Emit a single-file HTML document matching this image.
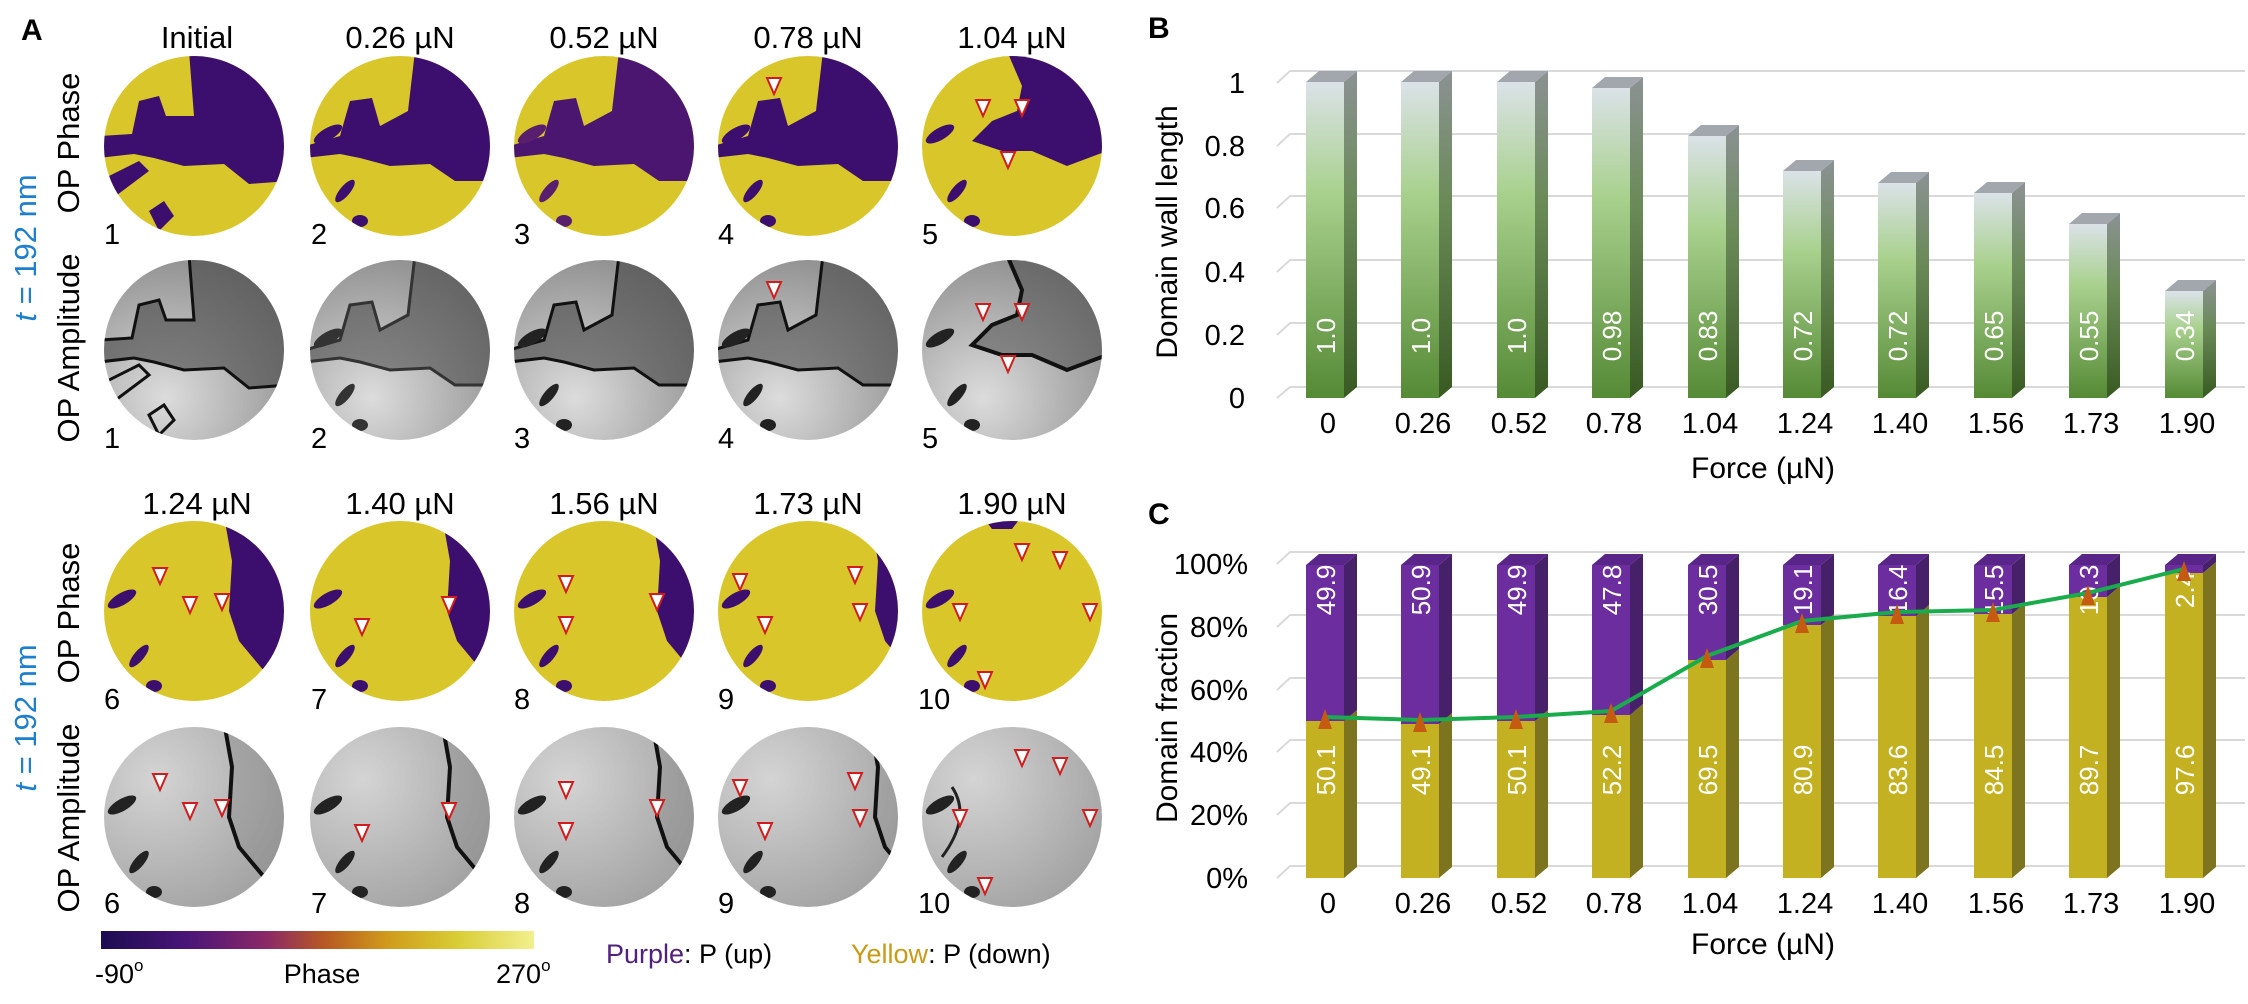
<!DOCTYPE html>
<html><head><meta charset="utf-8"><style>
html,body{margin:0;padding:0;background:#fff;}
svg{display:block;}
.a{font-family:"Liberation Sans",sans-serif;}
.d{font-family:"Liberation Sans",sans-serif;}
</style></head><body>
<svg width="2248" height="1004" viewBox="0 0 2248 1004" xmlns="http://www.w3.org/2000/svg">
<defs>
<clipPath id="cc"><circle cx="0" cy="0" r="90"/></clipPath>
<linearGradient id="cb" x1="0" x2="1" y1="0" y2="0">
<stop offset="0" stop-color="#1c0c50"/><stop offset="0.2" stop-color="#4a1578"/><stop offset="0.38" stop-color="#8a2868"/><stop offset="0.52" stop-color="#b85a22"/><stop offset="0.66" stop-color="#d09a1c"/><stop offset="0.82" stop-color="#d8cc34"/><stop offset="1" stop-color="#f2f08e"/></linearGradient>
<radialGradient id="gr" cx="0.35" cy="0.75" r="0.8"><stop offset="0" stop-color="#dcdcdc"/><stop offset="1" stop-color="#8c8c8c"/></radialGradient>
<radialGradient id="gr2" cx="0.3" cy="0.3" r="0.9"><stop offset="0" stop-color="#d4d4d4"/><stop offset="1" stop-color="#9a9a9a"/></radialGradient>
<linearGradient id="gf" x1="0" x2="0" y1="0" y2="1"><stop offset="0" stop-color="#dbe2e8"/><stop offset="0.35" stop-color="#a9d18e"/><stop offset="1" stop-color="#558a35"/></linearGradient>
<linearGradient id="gs" x1="0" x2="0" y1="0" y2="1"><stop offset="0" stop-color="#8c9294"/><stop offset="0.4" stop-color="#6a8a58"/><stop offset="1" stop-color="#385a22"/></linearGradient>
<path id="sA" d="M-95,0 L-60,-10 L-50,-45 L-28,-48 L-20,-20 L8,-35 L15,-95 L95,-95 L95,35 L55,35 L30,18 L-10,20 L-40,12 L-60,8 L-95,12 Z"/>
<path id="sA1" d="M-95,-10 L-62,-12 L-55,-45 L-35,-50 L-28,-30 L0,-30 L-5,-95 L95,-95 L95,35 L55,38 L30,18 L-10,20 L-40,12 L-60,8 L-95,12 Z"/>
<path id="sB" d="M-5,-95 L95,-95 L95,5 L55,20 L20,5 L-10,5 L-40,-5 L-20,-25 L5,-35 L10,-60 Z"/>
<path id="sC" d="M30,-95 L95,-95 L95,95 L70,60 L45,30 L35,0 L38,-50 Z"/>
<g id="st"><ellipse cx="-72" cy="-12" rx="16" ry="6" transform="rotate(-30 -72 -12)"/><ellipse cx="-55" cy="45" rx="14" ry="5" transform="rotate(-50 -55 45)"/><ellipse cx="-40" cy="75" rx="8" ry="6"/></g>
<g id="st2"><path d="M-95,35 L-55,15 L-45,25 L-85,55 Z"/><path d="M-45,65 L-30,55 L-20,70 L-35,85 Z"/></g>
<path id="tri" d="M-7,-8 L7,-8 L0,8 Z" fill="#fff" stroke="#d01c1c" stroke-width="2"/>
</defs>

<text x="21" y="40" class="a" font-size="30" font-weight="bold">A</text>
<g class="a" font-size="31" text-anchor="middle">
<text x="197" y="48">Initial</text><text x="400" y="48">0.26 µN</text><text x="604" y="48">0.52 µN</text><text x="808" y="48">0.78 µN</text><text x="1012" y="48">1.04 µN</text>
<text x="197" y="514">1.24 µN</text><text x="400" y="514">1.40 µN</text><text x="604" y="514">1.56 µN</text><text x="808" y="514">1.73 µN</text><text x="1012" y="514">1.90 µN</text>
</g>
<g class="a" font-size="31">
<text transform="translate(79,143) rotate(-90)" text-anchor="middle">OP Phase</text>
<text transform="translate(79,348) rotate(-90)" text-anchor="middle">OP Amplitude</text>
<text transform="translate(36,248) rotate(-90)" text-anchor="middle" fill="#1f7fcf"><tspan font-style="italic">t</tspan> = 192 nm</text>
<text transform="translate(79,613) rotate(-90)" text-anchor="middle">OP Phase</text>
<text transform="translate(79,818) rotate(-90)" text-anchor="middle">OP Amplitude</text>
<text transform="translate(36,718) rotate(-90)" text-anchor="middle" fill="#1f7fcf"><tspan font-style="italic">t</tspan> = 192 nm</text>
</g>

<g transform="translate(194,146)" clip-path="url(#cc)"><rect x="-95" y="-95" width="190" height="190" fill="#d9c62a"/><use href="#sA1" fill="#3c0f6e"/><use href="#st2" fill="#3c0f6e"/></g>
<g transform="translate(400,146)" clip-path="url(#cc)"><rect x="-95" y="-95" width="190" height="190" fill="#d9c62a"/><use href="#sA" fill="#3c0f6e"/><use href="#st" fill="#3c0f6e"/></g>
<g transform="translate(604,146)" clip-path="url(#cc)"><rect x="-95" y="-95" width="190" height="190" fill="#d9c62a"/><use href="#sA" fill="#4a1670"/><use href="#st" fill="#5a1e6e"/></g>
<g transform="translate(808,146)" clip-path="url(#cc)"><rect x="-95" y="-95" width="190" height="190" fill="#d9c62a"/><use href="#sA" fill="#3c0f6e"/><use href="#st" fill="#3c0f6e"/></g>
<g transform="translate(1012,146)" clip-path="url(#cc)"><rect x="-95" y="-95" width="190" height="190" fill="#d9c62a"/><use href="#sB" fill="#3c0f6e"/><use href="#st" fill="#3c0f6e"/></g>
<g transform="translate(194,350)" clip-path="url(#cc)"><rect x="-95" y="-95" width="190" height="190" fill="url(#gr)"/><use href="#sA1" fill="#444" fill-opacity="0.6" stroke="#111" stroke-width="3"/><use href="#st2" fill="none" stroke="#111" stroke-width="3"/></g>
<g transform="translate(400,350)" clip-path="url(#cc)"><rect x="-95" y="-95" width="190" height="190" fill="url(#gr)"/><use href="#sA" fill="#444" fill-opacity="0.55" stroke="#333" stroke-width="3"/><use href="#st" fill="#333"/></g>
<g transform="translate(604,350)" clip-path="url(#cc)"><rect x="-95" y="-95" width="190" height="190" fill="url(#gr)"/><use href="#sA" fill="#444" fill-opacity="0.6" stroke="#111" stroke-width="3"/><use href="#st" fill="#222"/></g>
<g transform="translate(808,350)" clip-path="url(#cc)"><rect x="-95" y="-95" width="190" height="190" fill="url(#gr)"/><use href="#sA" fill="#444" fill-opacity="0.55" stroke="#111" stroke-width="3"/><use href="#st" fill="#222"/></g>
<g transform="translate(1012,350)" clip-path="url(#cc)"><rect x="-95" y="-95" width="190" height="190" fill="url(#gr)"/><use href="#sB" fill="#444" fill-opacity="0.5" stroke="#111" stroke-width="4"/><use href="#st" fill="#222"/></g>
<g transform="translate(194,611)" clip-path="url(#cc)"><rect x="-95" y="-95" width="190" height="190" fill="#d9c62a"/><use href="#sC" fill="#3c0f6e"/><use href="#st" fill="#3c0f6e"/></g>
<g transform="translate(400,611)" clip-path="url(#cc)"><rect x="-95" y="-95" width="190" height="190" fill="#d9c62a"/><use href="#sC" fill="#3c0f6e" transform="translate(12,0)"/><use href="#st" fill="#3c0f6e"/></g>
<g transform="translate(604,611)" clip-path="url(#cc)"><rect x="-95" y="-95" width="190" height="190" fill="#d9c62a"/><use href="#sC" fill="#3c0f6e" transform="translate(18,0)"/><use href="#st" fill="#3c0f6e"/></g>
<g transform="translate(808,611)" clip-path="url(#cc)"><rect x="-95" y="-95" width="190" height="190" fill="#d9c62a"/><use href="#sC" fill="#3c0f6e" transform="translate(32,0)"/><use href="#st" fill="#3c0f6e"/></g>
<g transform="translate(1012,611)" clip-path="url(#cc)"><rect x="-95" y="-95" width="190" height="190" fill="#d9c62a"/><path d="M-30,-95 L10,-95 L0,-82 L-20,-82 Z" fill="#3c0f6e"/><use href="#st" fill="#3c0f6e"/></g>
<g transform="translate(194,817)" clip-path="url(#cc)"><rect x="-95" y="-95" width="190" height="190" fill="url(#gr2)"/><use href="#sC" fill="#777" fill-opacity="0.3" stroke="#111" stroke-width="4"/><use href="#st" fill="#222"/></g>
<g transform="translate(400,817)" clip-path="url(#cc)"><rect x="-95" y="-95" width="190" height="190" fill="url(#gr2)"/><use href="#sC" fill="#777" fill-opacity="0.3" stroke="#111" stroke-width="4" transform="translate(12,0)"/><use href="#st" fill="#222"/></g>
<g transform="translate(604,817)" clip-path="url(#cc)"><rect x="-95" y="-95" width="190" height="190" fill="url(#gr2)"/><use href="#sC" fill="#777" fill-opacity="0.3" stroke="#111" stroke-width="4" transform="translate(18,0)"/><use href="#st" fill="#222"/></g>
<g transform="translate(808,817)" clip-path="url(#cc)"><rect x="-95" y="-95" width="190" height="190" fill="url(#gr2)"/><use href="#sC" fill="#777" fill-opacity="0.2" stroke="#111" stroke-width="4" transform="translate(32,0)"/><use href="#st" fill="#222"/></g>
<g transform="translate(1012,817)" clip-path="url(#cc)"><rect x="-95" y="-95" width="190" height="190" fill="url(#gr2)"/><use href="#st" fill="#222"/><path d="M-60,-30 Q-40,0 -70,40" fill="none" stroke="#222" stroke-width="3"/></g>

<g>
<use href="#tri" x="774" y="86"/><use href="#tri" x="774" y="290"/>
<use href="#tri" x="983" y="108"/><use href="#tri" x="1022" y="108"/><use href="#tri" x="1008" y="160"/>
<use href="#tri" x="983" y="312"/><use href="#tri" x="1022" y="312"/><use href="#tri" x="1008" y="364"/>
<use href="#tri" x="160" y="576"/><use href="#tri" x="190" y="605"/><use href="#tri" x="222" y="602"/>
<use href="#tri" x="160" y="782"/><use href="#tri" x="190" y="811"/><use href="#tri" x="222" y="808"/>
<use href="#tri" x="362" y="627"/><use href="#tri" x="449" y="605"/><use href="#tri" x="362" y="833"/><use href="#tri" x="449" y="811"/>
<use href="#tri" x="566" y="584"/><use href="#tri" x="566" y="625"/><use href="#tri" x="657" y="602"/>
<use href="#tri" x="566" y="790"/><use href="#tri" x="566" y="831"/><use href="#tri" x="657" y="808"/>
<use href="#tri" x="740" y="582"/><use href="#tri" x="765" y="625"/><use href="#tri" x="855" y="575"/><use href="#tri" x="860" y="612"/>
<use href="#tri" x="740" y="788"/><use href="#tri" x="765" y="831"/><use href="#tri" x="855" y="781"/><use href="#tri" x="860" y="818"/>
<use href="#tri" x="1022" y="552"/><use href="#tri" x="1060" y="560"/><use href="#tri" x="1090" y="612"/><use href="#tri" x="960" y="612"/><use href="#tri" x="985" y="680"/>
<use href="#tri" x="1022" y="758"/><use href="#tri" x="1060" y="766"/><use href="#tri" x="1090" y="818"/><use href="#tri" x="960" y="818"/><use href="#tri" x="985" y="886"/>
</g>

<g class="a" font-size="29">
<text x="104" y="244">1</text><text x="311" y="244">2</text><text x="514" y="244">3</text><text x="718" y="244">4</text><text x="922" y="244">5</text>
<text x="104" y="448">1</text><text x="311" y="448">2</text><text x="514" y="448">3</text><text x="718" y="448">4</text><text x="922" y="448">5</text>
<text x="104" y="709">6</text><text x="311" y="709">7</text><text x="514" y="709">8</text><text x="718" y="709">9</text><text x="918" y="709">10</text>
<text x="104" y="913">6</text><text x="311" y="913">7</text><text x="514" y="913">8</text><text x="718" y="913">9</text><text x="918" y="913">10</text>
</g>

<rect x="101" y="931" width="433" height="18" fill="url(#cb)"/>
<g class="a" font-size="27">
<text x="95" y="983">-90<tspan font-size="17" dy="-12">o</tspan></text>
<text x="322" y="983" text-anchor="middle">Phase</text>
<text x="496" y="983">270<tspan font-size="17" dy="-12">o</tspan></text>
<text x="606" y="963"><tspan fill="#50217f">Purple</tspan>: P (up)</text>
<text x="851" y="963"><tspan fill="#c89a16">Yellow</tspan>: P (down)</text>
</g>

<text x="1148" y="38" class="a" font-size="30" font-weight="bold">B</text>
<g stroke="#d9d9d9" stroke-width="2" fill="none">
<path d="M1277,83 L1290,71 L2245,71"/><path d="M1277,146 L1290,134 L2245,134"/><path d="M1277,208 L1290,196 L2245,196"/><path d="M1277,272 L1290,260 L2245,260"/><path d="M1277,335 L1290,323 L2245,323"/><path d="M1277,398 L1290,387 L2245,387"/>
</g>
<g class="d" font-size="29" text-anchor="end">
<text x="1245" y="93">1</text><text x="1245" y="156">0.8</text><text x="1245" y="218">0.6</text><text x="1245" y="282">0.4</text><text x="1245" y="345">0.2</text><text x="1245" y="408">0</text>
</g>
<text transform="translate(1177,232) rotate(-90)" class="a" font-size="30" text-anchor="middle">Domain wall length</text>

<g>
<g transform="translate(1306,0)"><path d="M38,82 L51,71 L51,387 L38,398 Z" fill="url(#gs)"/><path d="M0,82 L13,71 L51,71 L38,82 Z" fill="#a2a6ad"/><rect x="0" y="82" width="38" height="316" fill="url(#gf)"/></g>
<g transform="translate(1401,0)"><path d="M38,82 L51,71 L51,387 L38,398 Z" fill="url(#gs)"/><path d="M0,82 L13,71 L51,71 L38,82 Z" fill="#a2a6ad"/><rect x="0" y="82" width="38" height="316" fill="url(#gf)"/></g>
<g transform="translate(1497,0)"><path d="M38,82 L51,71 L51,387 L38,398 Z" fill="url(#gs)"/><path d="M0,82 L13,71 L51,71 L38,82 Z" fill="#a2a6ad"/><rect x="0" y="82" width="38" height="316" fill="url(#gf)"/></g>
<g transform="translate(1592,0)"><path d="M38,88 L51,77 L51,387 L38,398 Z" fill="url(#gs)"/><path d="M0,88 L13,77 L51,77 L38,88 Z" fill="#a2a6ad"/><rect x="0" y="88" width="38" height="310" fill="url(#gf)"/></g>
<g transform="translate(1688,0)"><path d="M38,136 L51,125 L51,387 L38,398 Z" fill="url(#gs)"/><path d="M0,136 L13,125 L51,125 L38,136 Z" fill="#a2a6ad"/><rect x="0" y="136" width="38" height="262" fill="url(#gf)"/></g>
<g transform="translate(1783,0)"><path d="M38,171 L51,160 L51,387 L38,398 Z" fill="url(#gs)"/><path d="M0,171 L13,160 L51,160 L38,171 Z" fill="#a2a6ad"/><rect x="0" y="171" width="38" height="227" fill="url(#gf)"/></g>
<g transform="translate(1878,0)"><path d="M38,183 L51,172 L51,387 L38,398 Z" fill="url(#gs)"/><path d="M0,183 L13,172 L51,172 L38,183 Z" fill="#a2a6ad"/><rect x="0" y="183" width="38" height="215" fill="url(#gf)"/></g>
<g transform="translate(1974,0)"><path d="M38,193 L51,182 L51,387 L38,398 Z" fill="url(#gs)"/><path d="M0,193 L13,182 L51,182 L38,193 Z" fill="#a2a6ad"/><rect x="0" y="193" width="38" height="205" fill="url(#gf)"/></g>
<g transform="translate(2069,0)"><path d="M38,224 L51,213 L51,387 L38,398 Z" fill="url(#gs)"/><path d="M0,224 L13,213 L51,213 L38,224 Z" fill="#a2a6ad"/><rect x="0" y="224" width="38" height="174" fill="url(#gf)"/></g>
<g transform="translate(2165,0)"><path d="M38,291 L51,280 L51,387 L38,398 Z" fill="url(#gs)"/><path d="M0,291 L13,280 L51,280 L38,291 Z" fill="#a2a6ad"/><rect x="0" y="291" width="38" height="107" fill="url(#gf)"/></g>
</g>
<g class="a" font-size="26" fill="#fff" text-anchor="middle">
<text transform="translate(1335,336) rotate(-90)">1.0</text><text transform="translate(1430,336) rotate(-90)">1.0</text><text transform="translate(1526,336) rotate(-90)">1.0</text><text transform="translate(1621,336) rotate(-90)">0.98</text><text transform="translate(1717,336) rotate(-90)">0.83</text><text transform="translate(1812,336) rotate(-90)">0.72</text><text transform="translate(1907,336) rotate(-90)">0.72</text><text transform="translate(2003,336) rotate(-90)">0.65</text><text transform="translate(2098,336) rotate(-90)">0.55</text><text transform="translate(2194,336) rotate(-90)">0.34</text>
</g>
<g class="d" font-size="29" text-anchor="middle">
<text x="1328" y="433">0</text><text x="1423" y="433">0.26</text><text x="1519" y="433">0.52</text><text x="1614" y="433">0.78</text><text x="1710" y="433">1.04</text><text x="1805" y="433">1.24</text><text x="1900" y="433">1.40</text><text x="1996" y="433">1.56</text><text x="2091" y="433">1.73</text><text x="2187" y="433">1.90</text>
</g>
<text x="1763" y="478" class="a" font-size="30" text-anchor="middle">Force (µN)</text>

<text x="1148" y="524" class="a" font-size="30" font-weight="bold">C</text>
<g stroke="#d9d9d9" stroke-width="2" fill="none">
<path d="M1277,564 L1290,552 L2245,552"/><path d="M1277,627 L1290,615 L2245,615"/><path d="M1277,690 L1290,678 L2245,678"/><path d="M1277,752 L1290,740 L2245,740"/><path d="M1277,815 L1290,803 L2245,803"/><path d="M1277,878 L1290,866 L2245,866"/>
</g>
<g class="d" font-size="29" text-anchor="end">
<text x="1248" y="574">100%</text><text x="1248" y="637">80%</text><text x="1248" y="700">60%</text><text x="1248" y="762">40%</text><text x="1248" y="825">20%</text><text x="1248" y="888">0%</text>
</g>
<text transform="translate(1177,718) rotate(-90)" class="a" font-size="30" text-anchor="middle">Domain fraction</text>

<g>
<g transform="translate(1306,0)"><path d="M38,721 L51,710 L51,867 L38,878 Z" fill="#7d7420"/><path d="M38,565 L51,554 L51,710 L38,721 Z" fill="#47206a"/><path d="M0,565 L13,554 L51,554 L38,565 Z" fill="#5a2588"/><rect x="0" y="565" width="38" height="156" fill="#6c2d9e"/><rect x="0" y="721" width="38" height="157" fill="#c3b122"/></g>
<g transform="translate(1401,0)"><path d="M38,724 L51,713 L51,867 L38,878 Z" fill="#7d7420"/><path d="M38,565 L51,554 L51,713 L38,724 Z" fill="#47206a"/><path d="M0,565 L13,554 L51,554 L38,565 Z" fill="#5a2588"/><rect x="0" y="565" width="38" height="159" fill="#6c2d9e"/><rect x="0" y="724" width="38" height="154" fill="#c3b122"/></g>
<g transform="translate(1497,0)"><path d="M38,721 L51,710 L51,867 L38,878 Z" fill="#7d7420"/><path d="M38,565 L51,554 L51,710 L38,721 Z" fill="#47206a"/><path d="M0,565 L13,554 L51,554 L38,565 Z" fill="#5a2588"/><rect x="0" y="565" width="38" height="156" fill="#6c2d9e"/><rect x="0" y="721" width="38" height="157" fill="#c3b122"/></g>
<g transform="translate(1592,0)"><path d="M38,715 L51,704 L51,867 L38,878 Z" fill="#7d7420"/><path d="M38,565 L51,554 L51,704 L38,715 Z" fill="#47206a"/><path d="M0,565 L13,554 L51,554 L38,565 Z" fill="#5a2588"/><rect x="0" y="565" width="38" height="150" fill="#6c2d9e"/><rect x="0" y="715" width="38" height="163" fill="#c3b122"/></g>
<g transform="translate(1688,0)"><path d="M38,660 L51,649 L51,867 L38,878 Z" fill="#7d7420"/><path d="M38,565 L51,554 L51,649 L38,660 Z" fill="#47206a"/><path d="M0,565 L13,554 L51,554 L38,565 Z" fill="#5a2588"/><rect x="0" y="565" width="38" height="95" fill="#6c2d9e"/><rect x="0" y="660" width="38" height="218" fill="#c3b122"/></g>
<g transform="translate(1783,0)"><path d="M38,625 L51,614 L51,867 L38,878 Z" fill="#7d7420"/><path d="M38,565 L51,554 L51,614 L38,625 Z" fill="#47206a"/><path d="M0,565 L13,554 L51,554 L38,565 Z" fill="#5a2588"/><rect x="0" y="565" width="38" height="60" fill="#6c2d9e"/><rect x="0" y="625" width="38" height="253" fill="#c3b122"/></g>
<g transform="translate(1878,0)"><path d="M38,616 L51,605 L51,867 L38,878 Z" fill="#7d7420"/><path d="M38,565 L51,554 L51,605 L38,616 Z" fill="#47206a"/><path d="M0,565 L13,554 L51,554 L38,565 Z" fill="#5a2588"/><rect x="0" y="565" width="38" height="51" fill="#6c2d9e"/><rect x="0" y="616" width="38" height="262" fill="#c3b122"/></g>
<g transform="translate(1974,0)"><path d="M38,614 L51,603 L51,867 L38,878 Z" fill="#7d7420"/><path d="M38,565 L51,554 L51,603 L38,614 Z" fill="#47206a"/><path d="M0,565 L13,554 L51,554 L38,565 Z" fill="#5a2588"/><rect x="0" y="565" width="38" height="49" fill="#6c2d9e"/><rect x="0" y="614" width="38" height="264" fill="#c3b122"/></g>
<g transform="translate(2069,0)"><path d="M38,597 L51,586 L51,867 L38,878 Z" fill="#7d7420"/><path d="M38,565 L51,554 L51,586 L38,597 Z" fill="#47206a"/><path d="M0,565 L13,554 L51,554 L38,565 Z" fill="#5a2588"/><rect x="0" y="565" width="38" height="32" fill="#6c2d9e"/><rect x="0" y="597" width="38" height="281" fill="#c3b122"/></g>
<g transform="translate(2165,0)"><path d="M38,573 L51,562 L51,867 L38,878 Z" fill="#7d7420"/><path d="M38,565 L51,554 L51,562 L38,573 Z" fill="#47206a"/><path d="M0,565 L13,554 L51,554 L38,565 Z" fill="#5a2588"/><rect x="0" y="565" width="38" height="8" fill="#6c2d9e"/><rect x="0" y="573" width="38" height="305" fill="#c3b122"/></g>
</g>
<g class="a" font-size="26" fill="#fff" text-anchor="middle">
<text transform="translate(1335,590) rotate(-90)">49.9</text><text transform="translate(1430,590) rotate(-90)">50.9</text><text transform="translate(1526,590) rotate(-90)">49.9</text><text transform="translate(1621,590) rotate(-90)">47.8</text><text transform="translate(1717,590) rotate(-90)">30.5</text><text transform="translate(1812,590) rotate(-90)">19.1</text><text transform="translate(1907,590) rotate(-90)">16.4</text><text transform="translate(2003,590) rotate(-90)">15.5</text><text transform="translate(2098,590) rotate(-90)">10.3</text><text transform="translate(2194,590) rotate(-90)">2.4</text>
<text transform="translate(1335,770) rotate(-90)">50.1</text><text transform="translate(1430,770) rotate(-90)">49.1</text><text transform="translate(1526,770) rotate(-90)">50.1</text><text transform="translate(1621,770) rotate(-90)">52.2</text><text transform="translate(1717,770) rotate(-90)">69.5</text><text transform="translate(1812,770) rotate(-90)">80.9</text><text transform="translate(1907,770) rotate(-90)">83.6</text><text transform="translate(2003,770) rotate(-90)">84.5</text><text transform="translate(2098,770) rotate(-90)">89.7</text><text transform="translate(2194,770) rotate(-90)">97.6</text>
</g>
<polyline points="1325,717 1420,720 1516,717 1611,711 1707,656 1802,621 1897,612 1993,610 2088,593 2184,569" fill="none" stroke="#1aac4c" stroke-width="4"/>
<g fill="#c55a11">
<path d="M1318,729 L1332,729 L1325,709 Z"/><path d="M1413,732 L1427,732 L1420,712 Z"/><path d="M1509,729 L1523,729 L1516,709 Z"/><path d="M1604,723 L1618,723 L1611,703 Z"/><path d="M1700,668 L1714,668 L1707,648 Z"/><path d="M1795,633 L1809,633 L1802,613 Z"/><path d="M1890,624 L1904,624 L1897,604 Z"/><path d="M1986,622 L2000,622 L1993,602 Z"/><path d="M2081,605 L2095,605 L2088,585 Z"/><path d="M2177,581 L2191,581 L2184,561 Z"/>
</g>
<g class="d" font-size="29" text-anchor="middle">
<text x="1328" y="913">0</text><text x="1423" y="913">0.26</text><text x="1519" y="913">0.52</text><text x="1614" y="913">0.78</text><text x="1710" y="913">1.04</text><text x="1805" y="913">1.24</text><text x="1900" y="913">1.40</text><text x="1996" y="913">1.56</text><text x="2091" y="913">1.73</text><text x="2187" y="913">1.90</text>
</g>
<text x="1763" y="954" class="a" font-size="30" text-anchor="middle">Force (µN)</text>
</svg>
</body></html>
